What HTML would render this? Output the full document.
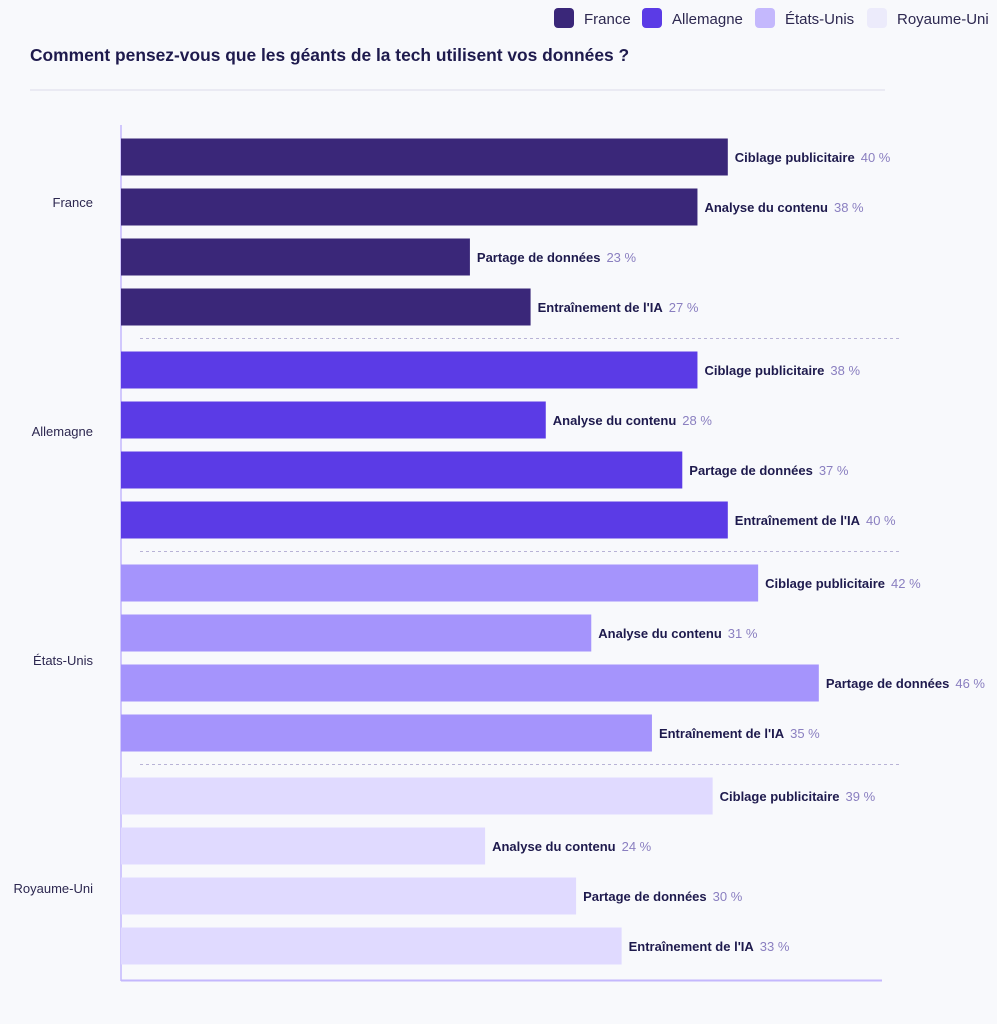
<!DOCTYPE html>
<html><head><meta charset="utf-8"><style>
body{margin:0;background:#f8f9fc;font-family:"Liberation Sans",sans-serif;}
</style></head><body>
<svg width="997" height="1024" id="chart" xmlns="http://www.w3.org/2000/svg" style="display:block;background:#f8f9fc">
<g>
 <rect x="554" y="8" width="20" height="20" rx="4" fill="#3a2779"/>
 <text x="584" y="24" font-size="15" fill="#2d2850">France</text>
 <rect x="642" y="8" width="20" height="20" rx="4" fill="#5b3be6"/>
 <text x="672" y="24" font-size="15" fill="#2d2850">Allemagne</text>
 <rect x="755" y="8" width="20" height="20" rx="4" fill="#c4b8fd"/>
 <text x="785" y="24" font-size="15" fill="#2d2850">États-Unis</text>
 <rect x="867" y="8" width="20" height="20" rx="4" fill="#ecebfb"/>
 <text x="897" y="24" font-size="15" fill="#2d2850">Royaume-Uni</text>
</g>
<text x="30" y="61" font-size="17.4" font-weight="bold" fill="#1e1a4d">Comment pensez-vous que les géants de la tech utilisent vos données ?</text>
<line x1="30" y1="90" x2="885" y2="90" stroke="#dcdcea"/>
<line x1="121" y1="125" x2="121" y2="981" stroke="#c4b8fd" stroke-width="1.5"/>
<line x1="121" y1="980.5" x2="882" y2="980.5" stroke="#c4b8fd" stroke-width="2"/>
<g id="bars"></g>
</svg>
<script>
const countries = ["France","Allemagne","États-Unis","Royaume-Uni"];
const categories = ["Ciblage publicitaire","Analyse du contenu","Partage de données","Entraînement de l'IA"];
const franceValues = [40,38,23,27];
const allemagneValues = [38,28,37,40];
const etatsUnisValues = [42,31,46,35];
const royaumeUniValues = [39,24,30,33];
const seriesValues = [franceValues, allemagneValues, etatsUnisValues, royaumeUniValues];
const colors = ["#3a2779","#5b3be6","#a594fc","#e0daff"];

const NS="http://www.w3.org/2000/svg";
const g=document.getElementById('bars');
const x0=121, pxPer=15.17;
const xScale=v=>x0+v*pxPer;
const rowY=(gi,ci)=>157+gi*213+ci*50;
const labelYs=[202,431,660,888];
function mk(tag,attrs){const e=document.createElementNS(NS,tag);for(const k in attrs)e.setAttribute(k,attrs[k]);return e;}
countries.forEach((c,gi)=>{
  const lab=mk('text',{x:93,y:labelYs[gi]+5,'text-anchor':'end','font-size':13,fill:'#2d2850'});
  lab.textContent=c;
  
  
  g.appendChild(lab);
  if(gi>0){
    const s=mk('line',{x1:140,x2:902,y1:rowY(gi,0)-31.5,y2:rowY(gi,0)-31.5,stroke:'#b8b3d6','stroke-dasharray':'3,3'});
    
    
    g.appendChild(s);
  }
  categories.forEach((cat,ci)=>{
    const v=seriesValues[gi][ci];
    const cy=rowY(gi,ci);
    const r=mk('rect',{x:x0,y:cy-18.5,width:xScale(v)-x0,height:37,fill:colors[gi]});
    
    
    g.appendChild(r);
    const t=mk('text',{x:xScale(v)+7,y:cy+5,'font-size':13});
    
    
    const a=mk('tspan',{'font-weight':'bold',fill:'#1e1a4d'});a.textContent=cat;
    const b=mk('tspan',{fill:'#8a7fc0',dx:6});b.textContent=v+' %';
    t.appendChild(a);t.appendChild(b);g.appendChild(t);
  });
});
</script>
</body></html>
